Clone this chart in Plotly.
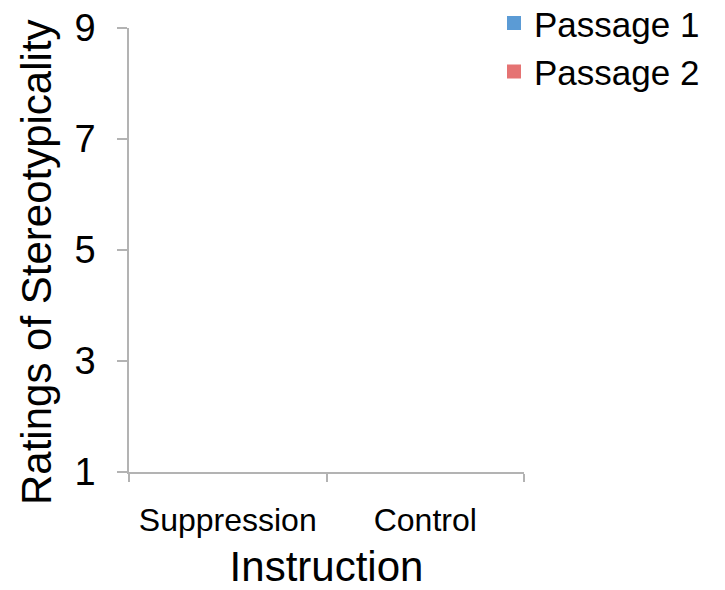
import plotly.graph_objects as go

categories = ["Suppression", "Control"]
passage1 = [None, None]
passage2 = [None, None]
y_ticks = [1, 3, 5, 7, 9]
series_names = ["Passage 1", "Passage 2"]
x_title = "Instruction"
y_title = "Ratings of Stereotypicality"

FONT = "Liberation Sans, Arial, sans-serif"
AX = "#b3b3b3"
C1 = "#5b9bd5"
C2 = "#e57373"

L, R, T, B = 129, 201, 28, 118
W, H = 725, 590
PW, PH = W - L - R, H - T - B

fig = go.Figure()
fig.add_trace(go.Bar(x=categories, y=passage1, name=series_names[0],
                     marker=dict(color=C1, line=dict(color=C1, width=2))))
fig.add_trace(go.Bar(x=categories, y=passage2, name=series_names[1],
                     marker=dict(color=C2, line=dict(color=C2, width=2))))

fig.update_layout(
    width=W, height=H,
    margin=dict(l=L, r=R, t=T, b=B, autoexpand=False),
    paper_bgcolor="white", plot_bgcolor="white",
    font=dict(family=FONT, color="black"),
    showlegend=True,
    legend=dict(x=0.924, xanchor="left", y=1.077, yanchor="top",
                font=dict(size=35, family=FONT), bgcolor="rgba(0,0,0,0)",
                itemclick=False),
    barmode="group",
    annotations=[dict(text=y_title, textangle=-90, showarrow=False,
                      xref="paper", yref="paper",
                      x=(36 - L) / PW, y=(H - B - 262) / PH,
                      xanchor="center", yanchor="middle",
                      font=dict(size=42, family=FONT, color="black"))],
)
fig.update_xaxes(
    type="category", categoryorder="array", categoryarray=categories,
    showline=True, linecolor=AX, linewidth=1.5,
    ticks="outside", tickson="boundaries", ticklen=8, tickcolor=AX, tickwidth=1.5,
    tickfont=dict(size=32, family=FONT), ticklabelstandoff=19,
    showgrid=False, zeroline=False, automargin=False,
    title=dict(text=x_title, font=dict(size=42, family=FONT), standoff=25),
)
fig.update_yaxes(
    range=[1, 9], tickvals=y_ticks, ticktext=[str(v) for v in y_ticks],
    showline=True, linecolor=AX, linewidth=1.5,
    ticks="outside", ticklen=10, tickcolor=AX, tickwidth=1.5,
    tickfont=dict(size=38, family=FONT), ticklabelstandoff=14,
    showgrid=False, zeroline=False, automargin=False,
)

fig.write_html("out.html", config={"displayModeBar": False},
               post_script="document.body.style.margin='0';document.body.style.padding='0';")
